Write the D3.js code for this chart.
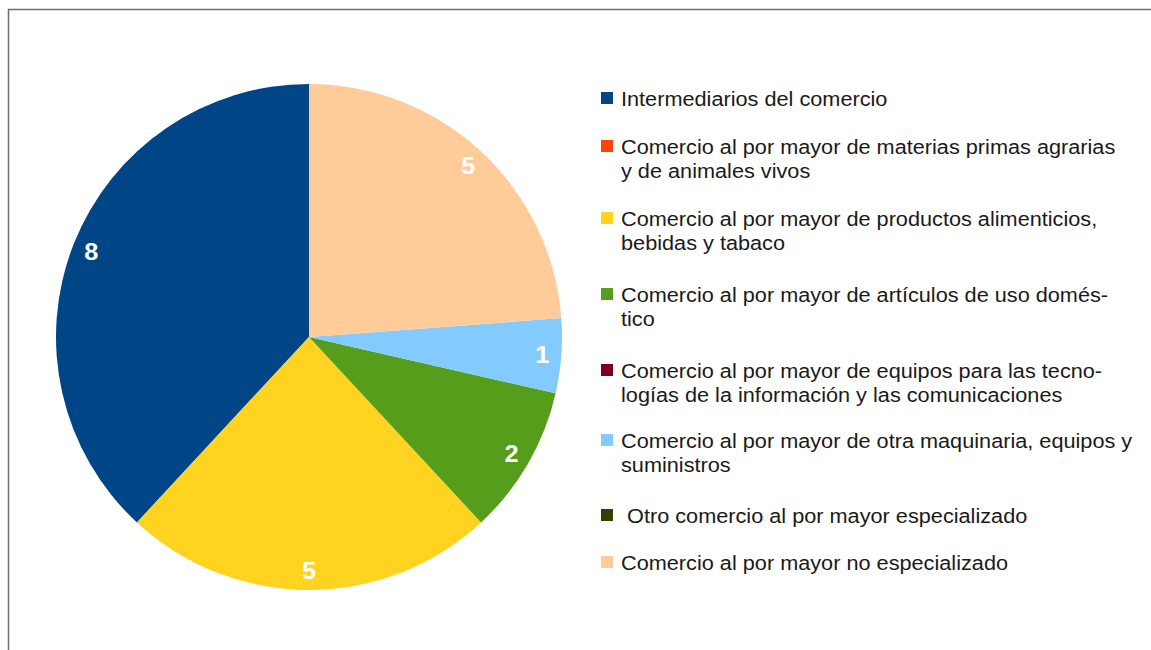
<!DOCTYPE html>
<html><head><meta charset="utf-8">
<script src="https://cdn.jsdelivr.net/npm/d3@7"></script>
<style>html,body{margin:0;padding:0;background:#fff;}svg{display:block;}</style>
</head><body>
<script>
const categories = [
  "Intermediarios del comercio",
  "Comercio al por mayor de materias primas agrarias|y de animales vivos",
  "Comercio al por mayor de productos alimenticios,|bebidas y tabaco",
  "Comercio al por mayor de artículos de uso domés-|tico",
  "Comercio al por mayor de equipos para las tecno-|logías de la información y las comunicaciones",
  "Comercio al por mayor de otra maquinaria, equipos y|suministros",
  " Otro comercio al por mayor especializado",
  "Comercio al por mayor no especializado"
];
const values = [8, 0, 5, 2, 0, 1, 0, 5];
const colors = ["#004586","#ff420e","#ffd320","#579d1c","#7e0021","#83caff","#314004","#ffcc99"];
const legendY = [99, 147, 219, 295, 371, 441, 516, 563];

const W = 1151, H = 650;
const svg = d3.select("body").append("svg").attr("width", W).attr("height", H);
svg.append("rect").attr("x", 8.5).attr("y", 9.5).attr("width", W).attr("height", H)
  .attr("fill", "#fff").attr("stroke", "#6e6e6e").attr("stroke-width", 1.5);

const cx = 309, cy = 337, R = 253;
const data = categories.map((c, i) => ({c, v: values[i], col: colors[i]}));
const pie = d3.pie().value(d => d.v).sort(null).startAngle(0).endAngle(-2 * Math.PI);
const arcs = pie(data);
const arc = d3.arc().innerRadius(0).outerRadius(R);
const labelArc = d3.arc().innerRadius(234).outerRadius(234);
const g = svg.append("g").attr("transform", `translate(${cx},${cy})`);
g.selectAll("path").data(arcs.filter(a => a.data.v > 0)).join("path")
  .attr("d", arc).attr("fill", d => d.data.col);
g.selectAll("text").data(arcs.filter(a => a.data.v > 0)).join("text")
  .attr("transform", d => `translate(${labelArc.centroid(d)}) scale(1.1,1)`)
  .attr("text-anchor", "middle").attr("dy", "0.36em")
  .attr("font-family", "'Liberation Sans', Arial, sans-serif")
  .attr("font-weight", "bold").attr("font-size", 23).attr("fill", "#fff")
  .text(d => d.data.v);

const lg = svg.append("g").attr("font-family", "'Liberation Sans', Arial, sans-serif")
  .attr("font-size", 20).attr("fill", "#1a1a1a");
data.forEach((d, i) => {
  const y = legendY[i];
  lg.append("rect").attr("x", 601).attr("y", y - 7).attr("width", 12).attr("height", 12).attr("fill", d.col);
  const lines = d.c.split("|");
  lines.forEach((ln, j) => {
    lg.append("text").attr("transform", `translate(621,${y + j * 24}) scale(1.085,1)`)
      .attr("dy", "0.35em").style("white-space", "pre").text(ln);
  });
});
</script>
</body></html>
